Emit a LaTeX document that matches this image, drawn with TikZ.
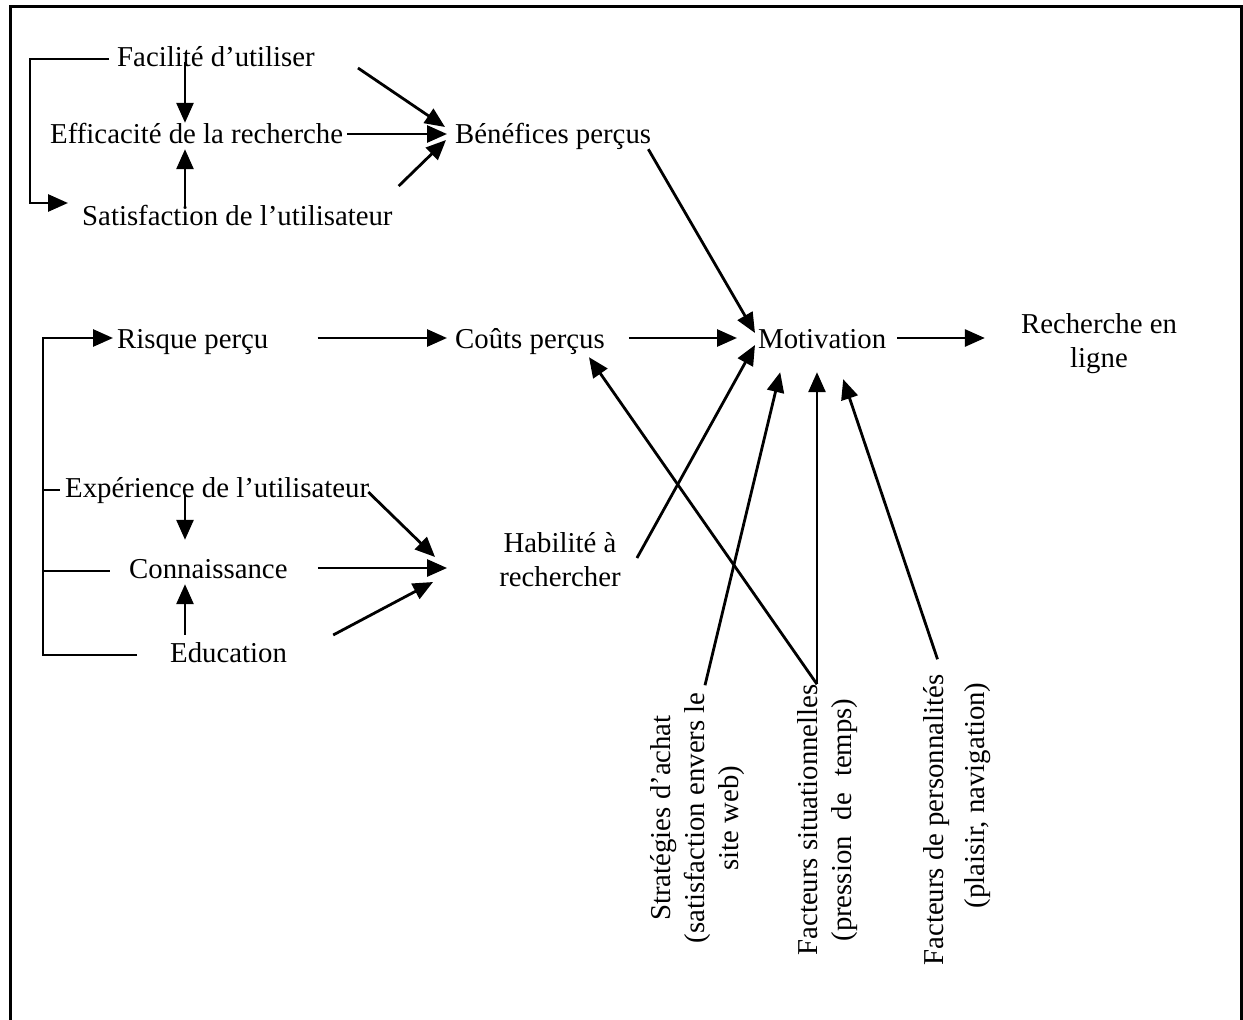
\documentclass[tikz,border=0pt]{standalone}
\usepackage{fontspec}
\setmainfont{Liberation Serif}
\usetikzlibrary{arrows.meta,calc}
\begin{document}
\begin{tikzpicture}[x=1pt,y=-1pt,
  lbl/.style={font=\fontsize{28.8}{34}\selectfont, inner sep=0pt, text height=20pt, text depth=6pt, anchor=base west},
  blk/.style={font=\fontsize{28.8}{34}\selectfont, inner sep=0pt, align=center},
  arr/.style={line width=2.8pt, -{Triangle[length=20pt,width=17pt]}},
  ln/.style={line width=2.8pt}]
\useasboundingbox (0,0) rectangle (1243,1020);
% frame
\draw[line width=3.5pt] (10.5,1020) -- (10.5,6.5) -- (1241.5,6.5) -- (1241.5,1020);

% guide columns
\coordinate (lA) at (30,0);
\coordinate (lB) at (43,0);
\coordinate (colA) at (185,0);

% top group
\node[lbl] (fac) at (117,66) {Facilité d’utiliser};
\node[lbl] (eff) at (50,143) {Efficacité de la recherche};
\node[lbl] (sat) at (82,225) {Satisfaction de l’utilisateur};
\node[lbl] (ben) at (455,143) {Bénéfices perçus};

% middle row
\node[lbl] (ris) at (117,348) {Risque perçu};
\node[lbl] (cou) at (455,348) {Coûts perçus};
\node[lbl] (mot) at (758,348) {Motivation};
\node[blk] (rec) at (1099,344) {Recherche en\\ligne};
\coordinate (motb) at ([yshift=-18pt]mot.south);

% lower group
\node[lbl] (exp) at (65,497) {Expérience de l’utilisateur};
\node[lbl] (con) at (129,578) {Connaissance};
\node[lbl] (edu) at (170,662) {Education};
\node[blk] (hab) at (560,560) {Habilité à\\rechercher};

% rotated factors
\node[blk, rotate=90] (str) at (697.5,818) {Stratégies d’achat\\(satisfaction envers le\\site web)};
\node[blk, rotate=90] (sit) at (828,820) {Facteurs situationnelles\\(pression\hspace{16pt}de\hspace{16pt}temps)};
\node[blk, rotate=90, align=right] (per) at (957.5,820) {Facteurs de personnalités\\[7pt](plaisir, navigation)\hspace*{8pt}};

% top group connectors
\draw[arr, shorten <=4pt, shorten >=14pt] ([xshift=-4pt]fac.west) -- (fac.west -| lA) -- ([yshift=15pt]sat.west -| lA) -- ([yshift=15pt]sat.west);
\draw[arr] ([yshift=-3pt]fac.center -| colA) -- (eff.north -| colA);
\draw[arr] ([yshift=-3pt]sat.north -| colA) -- (eff.south -| colA);
\draw[arr, shorten <=4pt, shorten >=8pt] ([yshift=2pt]eff.east) -- ([yshift=2pt]ben.west);
\draw[arr] ([shift={(43,9)}]fac.east) -- ([shift={(-10,-9)}]ben.west);
\draw[arr] ([shift={(6,-32)}]sat.east) -- ([shift={(-9,4)}]ben.west);
\draw[arr] ([xshift=-3pt]ben.south east) -- ([shift={(-3,-8)}]mot.west);

% middle row connectors
\draw[arr, shorten >=4pt] ([xshift=-33pt]edu.west) -- (edu.west -| lB) -- ([yshift=3pt]ris.west -| lB) -- ([yshift=3pt]ris.west);
\draw[ln] (exp.west -| lB) -- ([xshift=-5pt]exp.west);
\draw[ln] (con.west -| lB) -- ([xshift=-19pt]con.west);
\draw[arr, shorten <=49pt, shorten >=8pt] ([yshift=3pt]ris.east) -- ([yshift=3pt]cou.west);
\draw[arr, shorten <=24pt, shorten >=21pt] ([yshift=3pt]cou.east) -- ([yshift=3pt]mot.west);
\draw[arr, shorten <=11pt, shorten >=36pt] ([yshift=3pt]mot.east) -- ([yshift=3pt]mot.east -| rec.west);

% lower group connectors
\draw[arr, shorten >=18pt] ([yshift=-5pt]exp.center -| colA) -- (con.north -| colA);
\draw[arr] ([yshift=7pt]edu.north -| colA) -- (con.south -| colA);
\draw[arr, shorten <=30pt, shorten >=52pt] ([yshift=3pt]con.east) -- ([yshift=3pt]con.east -| hab.west);
\draw[arr] ([shift={(-1,2)}]exp.east) -- ([shift={(-64,-3)}]hab.west);
\draw[arr] ([shift={(46,-20)}]edu.east) -- ([shift={(-66,22)}]hab.west);
\draw[arr] ([shift={(16,-2)}]hab.east) -- ([shift={(-3,4)}]mot.west);

% factors into motivation and costs
\draw[arr] ([shift={(7.5,-7)}]str.east) -- ([shift={(-42,18)}]mot.south);
\draw[arr] ([xshift=-11pt]sit.east) -- ([xshift=-11pt]sit.east |- motb);
\draw[arr] ([xshift=-11pt]sit.east) -- ([shift={(-16,3)}]cou.south east);
\draw[arr] ([shift={(-20,-15)}]per.east) -- ([shift={(21,25)}]mot.south);
\end{tikzpicture}
\end{document}
